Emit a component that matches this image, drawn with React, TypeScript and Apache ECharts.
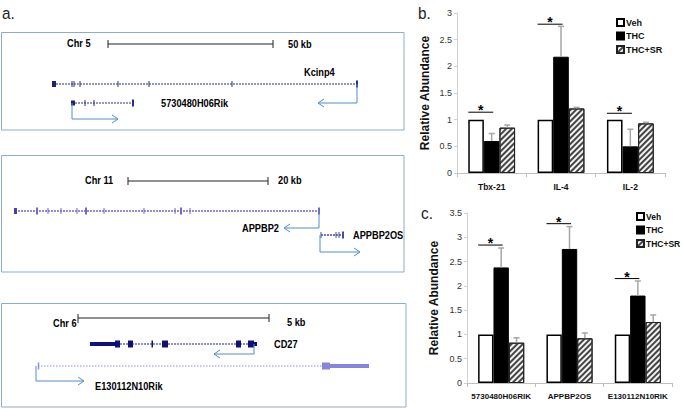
import React, { useEffect, useRef } from 'react';
import * as echarts from 'echarts';

// ---------- data ----------
const seriesNames = ['Veh', 'THC', 'THC+SR'];

const categoriesB = ['Tbx-21', 'IL-4', 'IL-2'];
const vehB = [1, 1, 1];
const thcB = [0.6, 2.18, 0.5];
const srB = [0.85, 1.21, 0.93];
const thcErrB = [0.14, 0.57, 0.32];
const srErrB = [0.05, 0.02, 0.02];
const sigB = [1.14, 2.79, 1.12];
const ticksB = { min: 0, max: 3, interval: 0.5 };

const categoriesC = ['5730480H06RIK', 'APPBP2OS', 'E130112N10RIK'];
const vehC = [1, 1, 1];
const thcC = [2.38, 2.76, 1.8];
const srC = [0.83, 0.92, 1.255];
const thcErrC = [0.4, 0.46, 0.3];
const srErrC = [0.1, 0.11, 0.145];
const sigC = [2.84, 3.28, 2.15];
const ticksC = { min: 0, max: 3.5, interval: 0.5 };

// ---------- styles ----------
const FONT = "'Liberation Sans', Arial, sans-serif";
const SQUEEZE = 0.84;
const BAR_FRAC = 0.225;
const ERR_COLOR = '#a6a6a6';
const BOX_COLOR = '#8eaccb';
const ARROW_COLOR = '#4f8fca';

// ---------- panel a illustration helpers ----------
const g: any[] = [];
const line = (x1: number, y1: number, x2: number, y2: number, stroke: string, lineWidth = 1, lineDash?: number[]) =>
  g.push({ type: 'line', shape: { x1, y1, x2, y2 }, style: { stroke, lineWidth, lineDash } });
const box = (x: number, y: number, w: number, h: number, fill: string) =>
  g.push({ type: 'rect', shape: { x, y, width: w, height: h }, style: { fill } });
const frame = (x: number, y: number, w: number, h: number) =>
  g.push({ type: 'rect', shape: { x, y, width: w, height: h }, style: { fill: 'none', stroke: BOX_COLOR, lineWidth: 1 } });
const txt = (s: string, x: number, y: number, size = 11) =>
  g.push({
    type: 'text', x, y, scaleX: SQUEEZE,
    style: { text: s, fill: '#000', fontSize: size, fontWeight: 'bold', fontFamily: FONT, verticalAlign: 'middle', align: 'left' },
  });
const scaleBar = (x1: number, x2: number, y: number) => {
  line(x1, y, x2, y, '#222', 1);
  line(x1, y - 4, x1, y + 4, '#222', 1);
  line(x2, y - 4, x2, y + 4, '#222', 1);
};
const gene = (y: number, x1: number, x2: number, color: string, ticks: number[], bold: number[], width = 1) => {
  line(x1, y, x2, y, color, width, [2, 1]);
  ticks.forEach((t) => line(t, y - 3, t, y + 3, color, 1));
  bold.forEach((t) => line(t, y - 3.5, t, y + 3.5, color, 2));
};
const arrow = (x0: number, y0: number, y1: number, x1: number) => {
  g.push({ type: 'polyline', shape: { points: [[x0, y0], [x0, y1], [x1, y1]] }, style: { stroke: ARROW_COLOR, lineWidth: 1, fill: 'none' } });
  const d = x1 > x0 ? -6 : 6;
  g.push({ type: 'polyline', shape: { points: [[x1 + d, y1 - 4], [x1, y1], [x1 + d, y1 + 4]] }, style: { stroke: ARROW_COLOR, lineWidth: 1, fill: 'none' } });
};
const letter = (s: string, x: number, y: number) =>
  g.push({ type: 'text', x, y, scaleX: 0.9, style: { text: s, fontSize: 17, fontFamily: FONT, fill: '#222', verticalAlign: 'middle' } });

// panel letters
letter('a.', 2, 13);
letter('b.', 418, 13);
letter('c.', 421, 213);

// box 1 : Chr 5
frame(1.5, 32.5, 402.5, 97.5);
txt('Chr 5', 67, 43);
scaleBar(108, 273, 44);
txt('50 kb', 288, 44);
gene(84, 53, 357, '#2d2d8f', [72, 74, 80, 118, 149, 232], [357]);
box(52, 81, 4, 6, '#1f1f80');
txt('Kcinp4', 304, 72);
arrow(357, 84, 103, 318);
gene(103, 72, 133, '#2d2d8f', [85, 94], [133]);
box(71, 100.5, 4, 5, '#1f1f80');
txt('5730480H06Rik', 161, 103);
arrow(72, 103, 119, 118);

// box 2 : Chr 11
frame(1.5, 155.5, 402.5, 116.5);
txt('Chr 11', 85, 180);
scaleBar(128, 268, 181);
txt('20 kb', 278, 180);
gene(211, 15, 319, '#7467cc', [48, 61, 77, 104, 144, 175, 190], [37, 86, 181, 319], 1.5);
box(14, 208, 3, 6, '#4a3fb0');
txt('APPBP2', 242, 228);
arrow(319, 211, 228, 284);
gene(235, 321, 343, '#4a4aa8', [321, 336, 339], [343], 1.5);
txt('APPBP2OS', 353, 235);
arrow(320, 235, 252, 360);

// box 3 : Chr 6
frame(1.5, 303.5, 404.5, 103.5);
txt('Chr 6', 53, 323);
line(78, 318, 269, 318, '#222', 1);
line(78, 314, 78, 323, '#222', 1);
line(269, 314, 269, 322, '#222', 1);
txt('5 kb', 287, 322);
line(117, 344, 257, 344, '#20208a', 1.2, [2, 1]);
box(90, 342, 27, 4, '#10107a');
box(115, 340.5, 5, 7, '#10107a');
box(128, 340.5, 5, 7, '#10107a');
box(151.5, 340.5, 1.5, 7, '#10107a');
box(162, 340.5, 6, 7, '#10107a');
box(236, 340.5, 5, 7, '#10107a');
box(248, 340.5, 6, 7, '#10107a');
box(254, 342, 3, 4, '#10107a');
txt('CD27', 274, 344);
arrow(254, 344, 354, 214);
line(38, 366, 322, 366, '#8f8fe0', 1.2, [1.5, 1.5]);
line(38.5, 362.5, 38.5, 369.5, '#8f8fe0', 1.5);
box(322, 362.5, 8, 7, '#8585dc');
box(330, 364, 39, 4, '#8585dc');
arrow(36, 366, 381, 84);
txt('E130112N10Rik', 95, 386);

// ---------- chart helpers ----------
const errRender = (offset: number) => (params: any, api: any) => {
  const idx = api.value(0);
  const v = api.value(1);
  const e = api.value(2);
  const bw = api.size([1, 0])[0] * BAR_FRAC;
  const base = api.coord([idx, v]);
  const top = api.coord([idx, v + e]);
  const x = base[0] + offset * bw;
  return {
    type: 'group',
    children: [
      { type: 'line', shape: { x1: x, y1: base[1], x2: x, y2: top[1] }, style: { stroke: ERR_COLOR, lineWidth: 1.5 } },
      { type: 'line', shape: { x1: x - 3, y1: top[1], x2: x + 3, y2: top[1] }, style: { stroke: ERR_COLOR, lineWidth: 1.5 } },
    ],
  };
};

const sigRender = (params: any, api: any) => {
  const idx = api.value(0);
  const h = api.value(1);
  const bw = api.size([1, 0])[0] * BAR_FRAC;
  const p = api.coord([idx, h]);
  const x1 = p[0] - 1.5 * bw;
  const x2 = p[0] + 0.1 * bw;
  return {
    type: 'group',
    children: [
      { type: 'line', shape: { x1, y1: p[1], x2, y2: p[1] }, style: { stroke: '#000', lineWidth: 1 } },
      { type: 'text', x: (x1 + x2) / 2, y: p[1] - 2, style: { text: '*', fontSize: 14, fontWeight: 'bold', fill: '#000', align: 'center', verticalAlign: 'middle', fontFamily: FONT } },
    ],
  };
};

const decal = {
  symbol: 'rect',
  symbolSize: 1,
  color: '#444',
  dashArrayX: [1, 0],
  dashArrayY: [1.5, 2],
  rotation: -Math.PI / 4,
};

const barStyles = [
  { color: '#fff', borderColor: '#000', borderWidth: 1.5 },
  { color: '#000', borderColor: '#000', borderWidth: 1 },
  { color: '#f2f2f2', borderColor: '#222', borderWidth: 1, decal },
];

const buildSeries = (axis: number, veh: number[], thc: number[], sr: number[], thcErr: number[], srErr: number[], sig: number[]) => [
  ...[veh, thc, sr].map((d, k) => ({
    name: seriesNames[k],
    type: 'bar',
    xAxisIndex: axis,
    yAxisIndex: axis,
    data: d,
    barWidth: (BAR_FRAC * 100) + '%',
    barGap: '0%',
    itemStyle: barStyles[k],
  })),
  {
    type: 'custom',
    xAxisIndex: axis,
    yAxisIndex: axis,
    renderItem: errRender(0),
    itemStyle: { color: ERR_COLOR },
    data: thc.map((v, i) => [i, v, thcErr[i]]),
    z: 5,
  },
  {
    type: 'custom',
    xAxisIndex: axis,
    yAxisIndex: axis,
    renderItem: errRender(1),
    itemStyle: { color: ERR_COLOR },
    data: sr.map((v, i) => [i, v, srErr[i]]),
    z: 5,
  },
  {
    type: 'custom',
    xAxisIndex: axis,
    yAxisIndex: axis,
    renderItem: sigRender,
    itemStyle: { color: '#000' },
    data: sig.map((v, i) => [i, v]),
    z: 6,
  },
];

const xAxisCommon = (grid: number, data: string[], size: number) => ({
  type: 'category',
  gridIndex: grid,
  data,
  axisLine: { show: true, lineStyle: { color: '#bfbfbf', width: 1 } },
  axisTick: { show: true, length: 4, lineStyle: { color: '#bfbfbf' } },
  axisLabel: { show: true, interval: 0, margin: 9, fontSize: size, fontWeight: 'bold', color: '#111', fontFamily: FONT },
});

const yAxisCommon = (grid: number, t: { min: number; max: number; interval: number }, gap: number) => ({
  type: 'value',
  gridIndex: grid,
  min: t.min,
  max: t.max,
  interval: t.interval,
  name: 'Relative Abundance',
  nameLocation: 'middle',
  nameRotate: 90,
  nameGap: gap,
  nameTextStyle: { fontSize: 12, fontWeight: 'bold', color: '#111', fontFamily: FONT },
  axisLine: { show: true, lineStyle: { color: '#d0d0d0' } },
  axisTick: { show: true, length: 3, lineStyle: { color: '#d0d0d0' } },
  splitLine: { show: false },
  axisLabel: { fontSize: 9, color: '#333', margin: 5, fontFamily: FONT },
});

const legendCommon = (left: number, top: number, size: number) => ({
  left,
  top,
  padding: 0,
  orient: 'vertical',
  data: seriesNames,
  itemWidth: 7,
  itemHeight: 7,
  itemGap: 4.5,
  icon: 'rect',
  selectedMode: false,
  textStyle: { fontSize: size, fontWeight: 'bold', color: '#111', fontFamily: FONT, padding: [0, 0, 0, -3] },
});

const option: any = {
  animation: false,
  backgroundColor: '#fff',
  grid: [
    { left: 457, top: 13, width: 208, height: 160, containLabel: false },
    { left: 467, top: 213, width: 205, height: 170, containLabel: false },
  ],
  legend: [legendCommon(616, 18, 9), legendCommon(636, 212, 8.5)],
  xAxis: [xAxisCommon(0, categoriesB, 8.5), xAxisCommon(1, categoriesC, 8)],
  yAxis: [yAxisCommon(0, ticksB, 26), yAxisCommon(1, ticksC, 27)],
  series: [
    ...buildSeries(0, vehB, thcB, srB, thcErrB, srErrB, sigB),
    ...buildSeries(1, vehC, thcC, srC, thcErrC, srErrC, sigC),
  ],
  graphic: g,
};

export default function App() {
  const ref = useRef<HTMLDivElement>(null);
  useEffect(() => {
    const chart = echarts.init(ref.current!, null, { renderer: 'svg' });
    chart.setOption(option);
    return () => chart.dispose();
  }, []);
  return (
    <div
      ref={ref}
      style={{ position: 'fixed', left: 0, top: 0, width: 683, height: 409, background: '#fff' }}
    />
  );
}
